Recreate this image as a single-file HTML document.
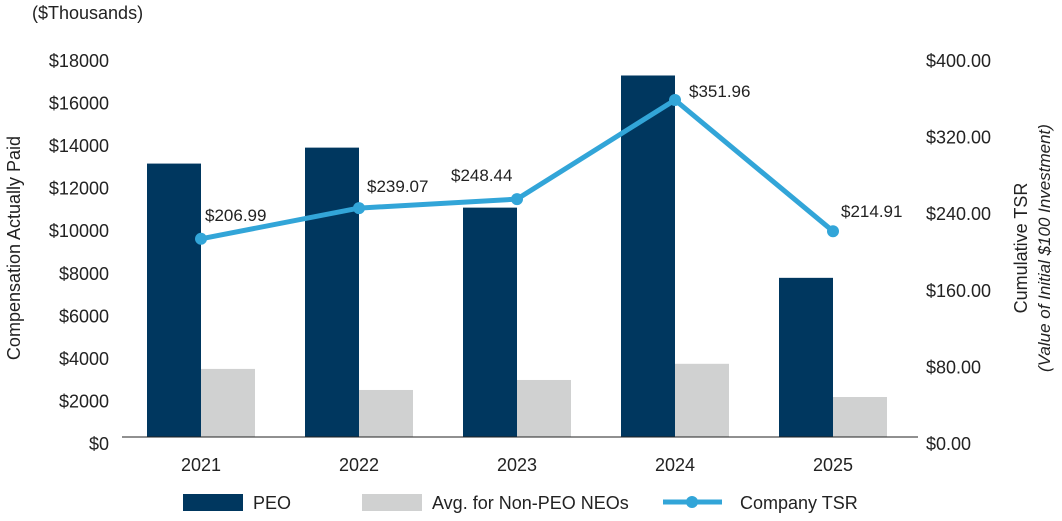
<!DOCTYPE html>
<html><head><meta charset="utf-8"><style>
body{margin:0;background:#fff;}
svg text{font-family:"Liberation Sans",sans-serif;fill:#222;}
</style></head><body>
<svg id="chart" width="1062" height="516">
<text x="32" y="19" font-size="18">($Thousands)</text>
<text transform="translate(20,248) rotate(-90)" font-size="18" text-anchor="middle">Compensation Actually Paid</text>
<text transform="translate(1027,248) rotate(-90)" font-size="18" text-anchor="middle">Cumulative TSR</text>
<text transform="translate(1050,248) rotate(-90)" font-size="17" font-style="italic" text-anchor="middle">(Value of Initial $100 Investment)</text>
<g id="ticks"></g><g id="bars"></g><g id="line"></g>
<line x1="122" y1="437" x2="918" y2="437" stroke="#222" stroke-width="1"/>
<g>
<rect x="183" y="494" width="60" height="17" fill="#00375f"/>
<text x="253" y="509" font-size="18">PEO</text>
<rect x="362" y="494" width="60" height="17" fill="#d0d1d1"/>
<text x="432" y="509" font-size="18">Avg. for Non-PEO NEOs</text>
<line x1="663" y1="502" x2="722" y2="502" stroke="#32a5d8" stroke-width="5"/>
<circle cx="692" cy="502" r="6" fill="#32a5d8"/>
<text x="740" y="509" font-size="18">Company TSR</text>
</g>
</svg>
<script>
const years=["2021","2022","2023","2024","2025"];
const peo=[12850,13600,10780,16990,7480];
const neo=[3200,2210,2680,3440,1880];
const tsr=[206.99,239.07,248.44,351.96,214.91];
const leftTicks=[0,2000,4000,6000,8000,10000,12000,14000,16000,18000];
const rightTicks=[0,80,160,240,320,400];
const NS="http://www.w3.org/2000/svg";
const yL=v=>437-v*(383/18000);
const yR=v=>437-v*(383/400);
const xC=i=>201+i*158;
function mk(tag,attrs,parent,txt){const e=document.createElementNS(NS,tag);for(const k in attrs)e.setAttribute(k,attrs[k]);if(txt!==undefined)e.textContent=txt;document.getElementById(parent).appendChild(e);return e;}
leftTicks.forEach(v=>{const t=mk('text',{x:109,y:yL(v)+13,'font-size':18,'text-anchor':'end'},'ticks','$'+v);

});
rightTicks.forEach(v=>{const t=mk('text',{x:926,y:yR(v)+13,'font-size':18},'ticks','$'+v.toFixed(2));

});
years.forEach((y,i)=>{
const c=xC(i);
const b1=mk('rect',{x:c-54,y:yL(peo[i]),width:54,height:437-yL(peo[i]),fill:'#00375f'},'bars');


const b2=mk('rect',{x:c,y:yL(neo[i]),width:54,height:437-yL(neo[i]),fill:'#d0d1d1'},'bars');


const t=mk('text',{x:c,y:471,'font-size':18,'text-anchor':'middle'},'ticks',y);


});
const pts=tsr.map((v,i)=>xC(i)+','+yR(v)).join(' ');
const pl=mk('polyline',{points:pts,fill:'none',stroke:'#32a5d8','stroke-width':5,'stroke-linejoin':'round'},'line');


const off=[[4,-24],[8,-22],[-66,-24],[14,-9],[8,-20]];
tsr.forEach((v,i)=>{
const c=mk('circle',{cx:xC(i),cy:yR(v),r:6,fill:'#32a5d8'},'line');


const t=mk('text',{x:xC(i)+off[i][0],y:yR(v)+off[i][1]+6,'font-size':17},'line','$'+v.toFixed(2));


});
</script>
</body></html>
